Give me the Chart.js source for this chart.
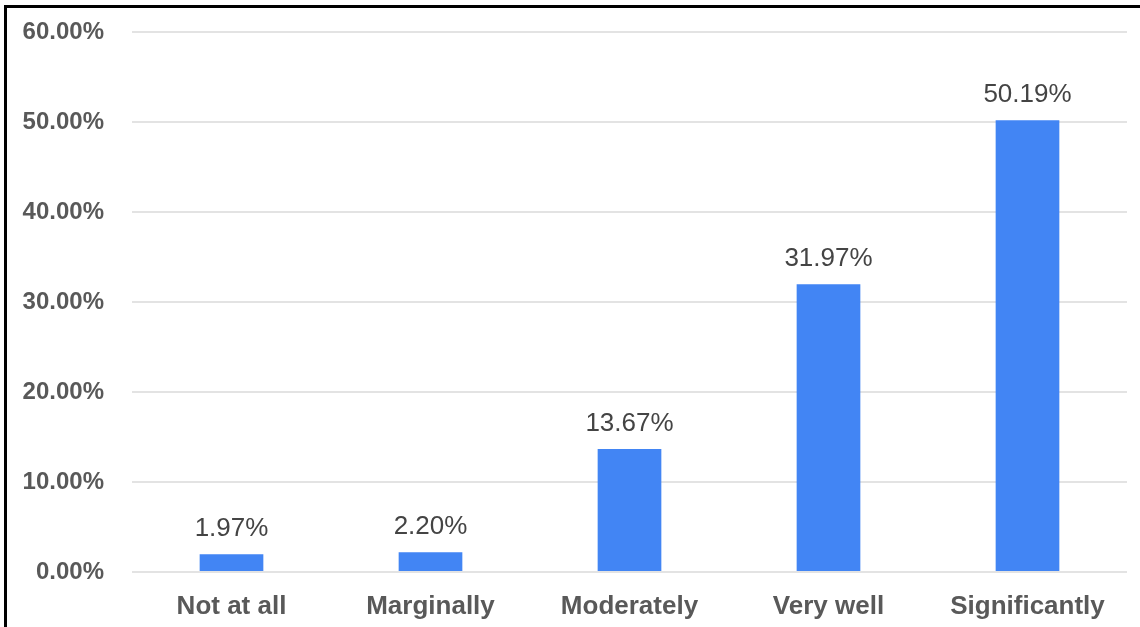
<!DOCTYPE html>
<html>
<head>
<meta charset="utf-8">
<script src="https://cdn.jsdelivr.net/npm/chart.js@4"></script>
<style>
    html, body { margin: 0; padding: 0; background: #fff; }
    #wrap { position: relative; width: 1140px; height: 627px; overflow: hidden; }
    #frame {
        position: absolute; left: 4px; top: 5px; width: 1200px; height: 700px;
        border-top: 3px solid #000; border-left: 3px solid #000; pointer-events: none;
    }
</style>
</head>
<body>
<div id="wrap">
    <canvas id="chart" width="1140" height="627"></canvas>
    <div id="frame"></div>
</div>
<script>
const categories = ['Not at all', 'Marginally', 'Moderately', 'Very well', 'Significantly'];
const percentages = [1.97, 2.20, 13.67, 31.97, 50.19];
const yTicks = [0, 10, 20, 30, 40, 50, 60];

// etiquetas encima de cada barra
const barLabels = {
    id: 'barLabels',
    afterDatasetsDraw(chart) {
        const ctx = chart.ctx;
        const meta = chart.getDatasetMeta(0);
        ctx.save();
        ctx.font = '26px "Liberation Sans", Arial, sans-serif';
        ctx.fillStyle = '#444444';
        ctx.textAlign = 'center';
        ctx.textBaseline = 'bottom';
        meta.data.forEach((bar, i) => {
            ctx.fillText(percentages[i].toFixed(2) + '%', bar.x, bar.y - 12);
        });
        ctx.restore();
    }
};

new Chart(document.getElementById('chart').getContext('2d'), {
    type: 'bar',
    data: {
        labels: categories,
        datasets: [{
            data: percentages,
            backgroundColor: '#4285F4',
            barPercentage: 0.32,
            categoryPercentage: 1
        }]
    },
    options: {
        responsive: false,
        animation: false,
        layout: { padding: { left: 20, right: 13, top: 32, bottom: 0 } },
        plugins: {
            legend: { display: false },
            tooltip: { enabled: false }
        },
        scales: {
            x: {
                grid: { display: false, drawTicks: false },
                border: { display: false },
                afterFit: axis => { axis.height = 55; },
                ticks: {
                    padding: 19,
                    color: '#595959',
                    font: { family: '"Liberation Sans", Arial, sans-serif', size: 26, weight: 'bold' }
                }
            },
            y: {
                min: yTicks[0],
                max: yTicks[yTicks.length - 1],
                afterBuildTicks: axis => { axis.ticks = yTicks.map(v => ({ value: v })); },
                afterFit: axis => { axis.width = 112; axis.paddingTop = 0; },
                grid: { color: '#e3e3e3', lineWidth: 2, drawTicks: false },
                border: { display: false },
                ticks: {
                    padding: 28,
                    color: '#595959',
                    font: { family: '"Liberation Sans", Arial, sans-serif', size: 24, weight: 'bold' },
                    callback: value => value.toFixed(2) + '%'
                }
            }
        }
    },
    plugins: [barLabels]
});
</script>
</body>
</html>
